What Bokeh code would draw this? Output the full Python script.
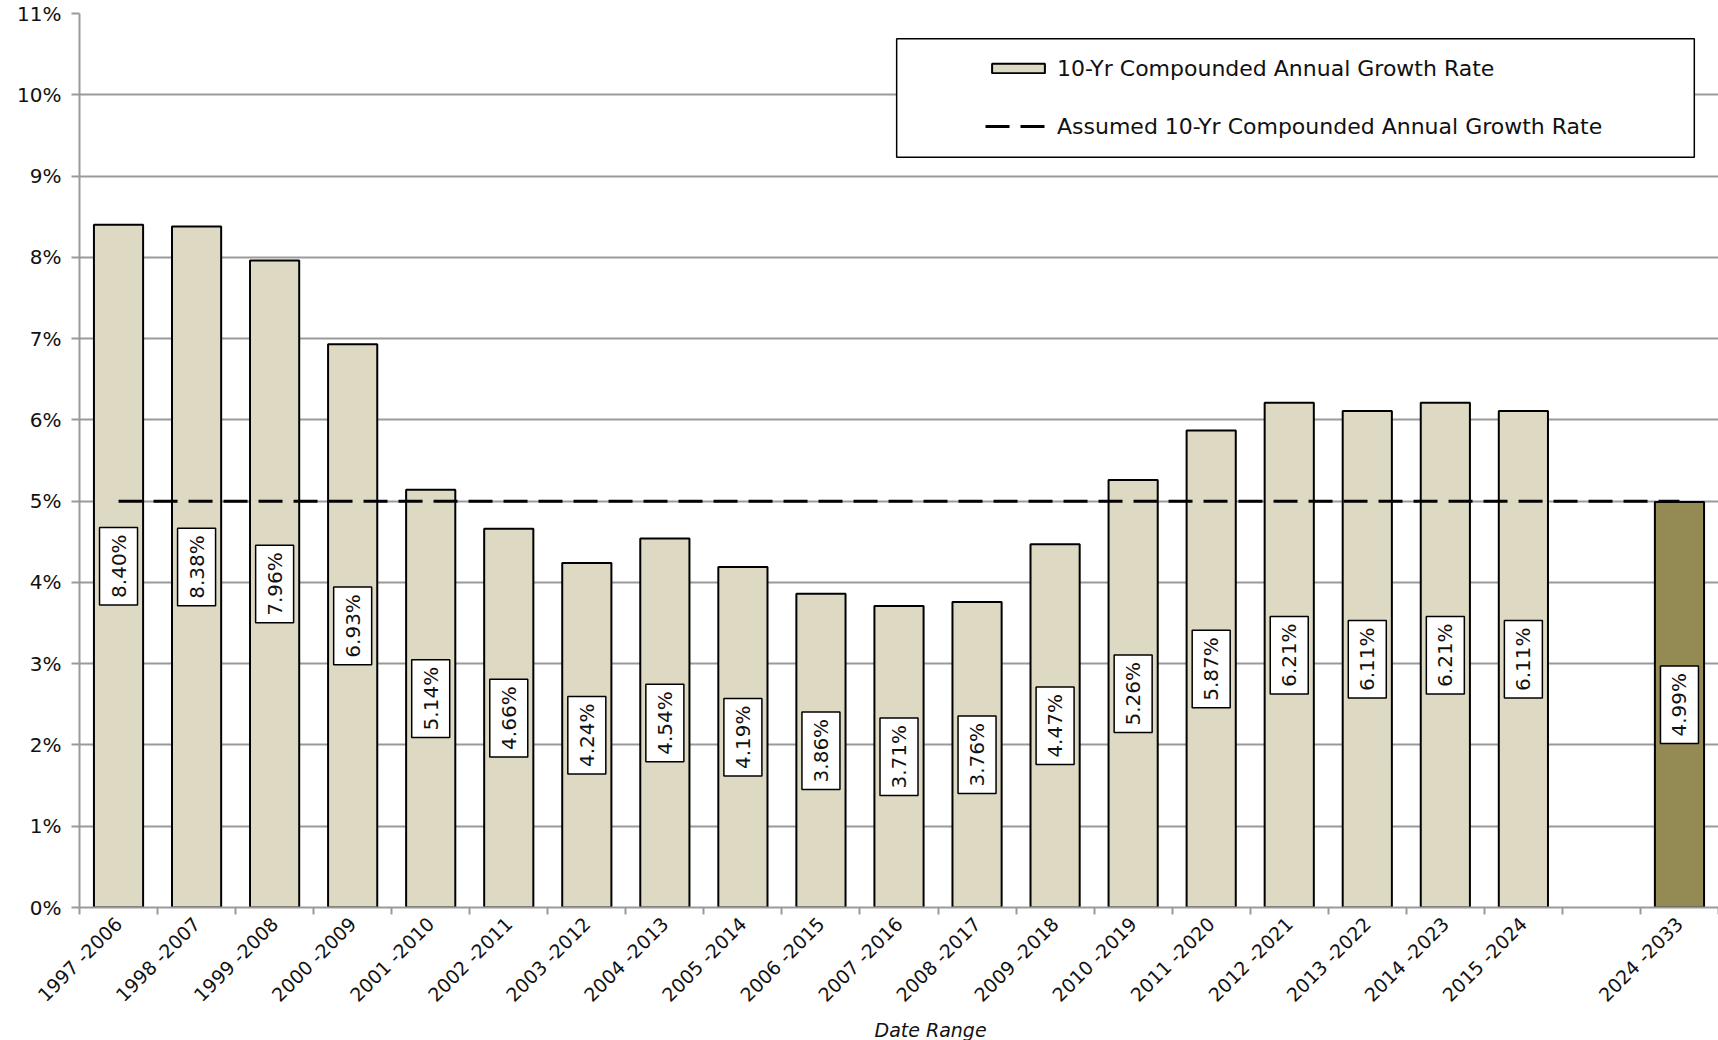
import math
from bokeh.plotting import figure
from bokeh.models import (FixedTicker, PrintfTickFormatter, Legend, LegendItem,
                          BoxAnnotation, Range1d, Title)
from bokeh.embed import file_html
from bokeh.resources import INLINE
from bokeh.core.properties import value

# ---- data ----
historic_periods = ["1997 -2006", "1998 -2007", "1999 -2008", "2000 -2009", "2001 -2010",
                    "2002 -2011", "2003 -2012", "2004 -2013", "2005 -2014", "2006 -2015",
                    "2007 -2016", "2008 -2017", "2009 -2018", "2010 -2019", "2011 -2020",
                    "2012 -2021", "2013 -2022", "2014 -2023", "2015 -2024"]
historic_cagr = [8.40, 8.38, 7.96, 6.93, 5.14, 4.66, 4.24, 4.54, 4.19, 3.86,
                 3.71, 3.76, 4.47, 5.26, 5.87, 6.21, 6.11, 6.21, 6.11]
projected_periods = ["2024 -2033"]
projected_cagr = [4.99]
assumed_rate = 5.0
y_tick_values = list(range(0, 12))

FONT = "DejaVu Sans"
GRAY = "#9a9a9a"
TXT = "#111111"

# slots: historic, one empty gap, projected
slot_labels = historic_periods + [""] + projected_periods
n_slots = len(slot_labels)
hist_x = [i + 0.5 for i in range(len(historic_periods))]
proj_x = [len(historic_periods) + 1 + i + 0.5 for i in range(len(projected_periods))]
centers = [i + 0.5 for i in range(n_slots)]
boundaries = list(range(n_slots + 1))

p = figure(width=1718, height=1040, x_range=Range1d(0, n_slots), y_range=Range1d(0, 11),
           output_backend="svg", toolbar_location=None,
           min_border_left=79, min_border_right=0, min_border_top=13, min_border_bottom=133)
p.outline_line_color = None
p.background_fill_color = "white"

bars_hist = p.vbar(x=hist_x, top=historic_cagr, width=0.63, fill_color="#DDD9C3",
                   line_color="black", line_width=2)
bars_proj = p.vbar(x=proj_x, top=projected_cagr, width=0.63, fill_color="#948A54",
                   line_color="black", line_width=2)

line = p.line(x=[centers[0], centers[-1]], y=[assumed_rate, assumed_rate],
              line_color="black", line_width=3, line_dash="24 11")

all_x = hist_x + proj_x
all_v = historic_cagr + projected_cagr
p.text(x=all_x, y=[v / 2 for v in all_v], text=[f"{v:.2f}%" for v in all_v],
       angle=math.pi / 2, text_align="center", text_baseline="middle",
       text_font=value(FONT), text_font_size="20px", text_color=TXT,
       background_fill_color="white", border_line_color="black", border_line_width=1.5,
       padding=7)

# legend frame
box = BoxAnnotation(left=10.47, right=20.69, top=10.69, bottom=9.23,
                    fill_color="white", fill_alpha=1.0, line_color="black",
                    line_alpha=1.0, line_width=1.5)
p.add_layout(box)

legend = Legend(items=[LegendItem(label="10-Yr Compounded Annual Growth Rate", renderers=[bars_hist]),
                       LegendItem(label="Assumed 10-Yr Compounded Annual Growth Rate", renderers=[line])],
                location=(906, 767), padding=0, spacing=30, label_height=28,
                glyph_height=12, glyph_width=66, label_standoff=6,
                border_line_alpha=0, background_fill_alpha=0,
                label_text_font=FONT, label_text_font_size="22px", label_text_color=TXT)
p.add_layout(legend)

# x axis
xa = p.xaxis[0]
xa.ticker = FixedTicker(ticks=centers, minor_ticks=boundaries)
xa.major_label_overrides = {c: lab for c, lab in zip(centers, slot_labels)}
xa.major_tick_out = 0
xa.major_tick_in = 0
xa.minor_tick_out = 7
xa.minor_tick_in = 0
xa.minor_tick_line_color = GRAY
xa.minor_tick_line_width = 2
xa.axis_line_color = GRAY
xa.axis_line_width = 2
xa.major_label_orientation = math.pi / 4
xa.major_label_standoff = 6
xa.major_label_text_font = FONT
xa.major_label_text_font_size = "19px"
xa.major_label_text_color = TXT

p.add_layout(Title(text="Date Range", align="left", offset=795, text_font=FONT,
                   text_font_size="19px", text_font_style="italic", text_color=TXT,
                   standoff=0), "below")

# y axis
ya = p.yaxis[0]
ya.ticker = FixedTicker(ticks=y_tick_values)
ya.formatter = PrintfTickFormatter(format="%d%%")
ya.major_tick_out = 8
ya.major_tick_in = 0
ya.minor_tick_out = 0
ya.minor_tick_in = 0
ya.major_tick_line_color = GRAY
ya.major_tick_line_width = 2
ya.axis_line_color = GRAY
ya.axis_line_width = 2
ya.major_label_standoff = 10
ya.major_label_text_font = FONT
ya.major_label_text_font_size = "20px"
ya.major_label_text_color = TXT

p.xgrid.grid_line_color = None
p.ygrid.grid_line_color = GRAY
p.ygrid.grid_line_width = 2

open("out.html", "w").write(file_html(p, INLINE))
